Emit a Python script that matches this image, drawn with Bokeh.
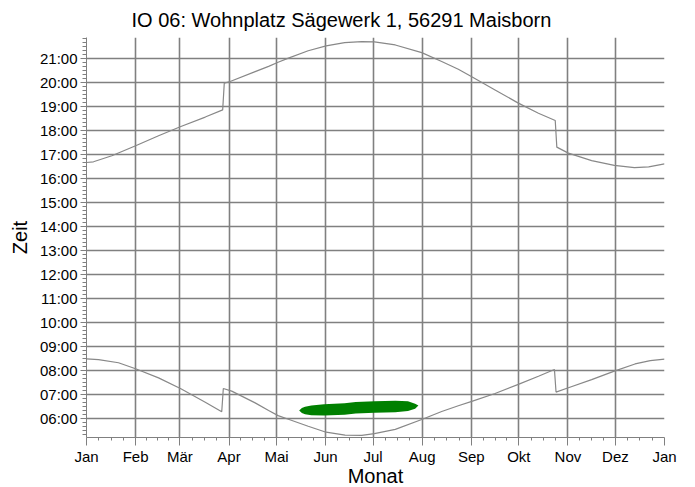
from bokeh.plotting import figure
from bokeh.models import FixedTicker, Range1d
from bokeh.embed import file_html
from bokeh.resources import INLINE

# ---- data ----
month_labels = ["Jan", "Feb", "Mär", "Apr", "Mai", "Jun", "Jul", "Aug", "Sep", "Okt", "Nov", "Dez", "Jan"]
month_starts = [0, 31, 59, 90, 120, 151, 181, 212, 243, 273, 304, 334, 365]

hour_ticks = list(range(6, 22))
hour_labels = [f"{h:02d}:00" for h in hour_ticks]

# sunset (upper curve), day of year -> hour
sunset_day = [0, 4.4, 16, 31.4, 45.5, 59.6, 75, 86, 87, 90.7, 106.5, 115, 121, 127.5, 140, 151.3, 163,
              173.8, 181.8, 195, 211.7, 224.3, 234.8, 243.3, 258, 272.7, 285.4, 296, 297, 304.3, 319,
              333.3, 346, 355, 365]
sunset_h = [16.66, 16.69, 16.94, 17.37, 17.77, 18.16, 18.55, 18.85, 19.96, 20.03, 20.44, 20.66, 20.83,
            21.00, 21.31, 21.51, 21.65, 21.69, 21.68, 21.55, 21.23, 20.86, 20.54, 20.23, 19.68, 19.13,
            18.71, 18.41, 17.30, 17.05, 16.74, 16.54, 16.45, 16.48, 16.60]

# sunrise (lower curve)
sunrise_day = [0, 7.6, 20.2, 31, 45.5, 59.6, 75, 85.4, 86.4, 91.7, 106.5, 115, 121, 127.5, 140, 151.3,
               163.3, 173.8, 181.8, 195, 211.7, 224.3, 234.8, 243.3, 258, 272.7, 285.4, 295.5, 296.5,
               304.3, 319, 333.3, 346.4, 356, 365]
sunrise_h = [8.49, 8.46, 8.33, 8.08, 7.70, 7.25, 6.69, 6.29, 7.26, 7.15, 6.66, 6.34, 6.13, 5.98, 5.69,
             5.44, 5.32, 5.31, 5.38, 5.56, 5.97, 6.30, 6.54, 6.72, 7.05, 7.43, 7.77, 8.05, 7.11, 7.29,
             7.63, 7.98, 8.28, 8.42, 8.48]

# shadow period band (green)
band_day = [134.3, 136, 138, 142, 150, 163, 170, 182, 195, 203, 207.5, 209.6]
band_lo = [6.345, 6.24, 6.19, 6.15, 6.14, 6.17, 6.22, 6.25, 6.27, 6.32, 6.42, 6.55]
band_hi = [6.345, 6.45, 6.50, 6.55, 6.60, 6.64, 6.70, 6.73, 6.75, 6.73, 6.62, 6.55]

# ---- figure ----
FONT = "Liberation Sans"
p = figure(output_backend="svg", toolbar_location=None,
           x_range=Range1d(0, 365), y_range=Range1d(5.22, 21.86),
           min_border_left=86, min_border_right=14, min_border_top=33, min_border_bottom=46,
           frame_width=578, frame_height=400)
p.styles = {"margin-bottom": "-8px"}
p.outline_line_color = None
p.background_fill_color = "white"
p.border_fill_color = "white"

p.title.text = "IO 06: Wohnplatz Sägewerk 1, 56291 Maisborn"
p.title.text_font = FONT
p.title.text_font_size = "20px"
p.title.text_font_style = "normal"
p.title.text_color = "black"
p.title.align = "left"
p.title.offset = 45
p.title.standoff = 13

# x axis
minor_x = []
for i in range(12):
    a, b = month_starts[i], month_starts[i + 1]
    minor_x += [a + (b - a) * k / 4 for k in (1, 2, 3)]
p.xaxis.ticker = FixedTicker(ticks=month_starts, minor_ticks=minor_x)
p.xaxis.major_label_overrides = {d: l for d, l in zip(month_starts, month_labels)}
p.xaxis.axis_label = "Monat"

# y axis
minor_y = [5 + k / 6 for k in range(2, 6 * 17 + 6) if 5 + k / 6 <= 21.86]
p.yaxis.ticker = FixedTicker(ticks=hour_ticks, minor_ticks=minor_y)
p.yaxis.major_label_overrides = {h: l for h, l in zip(hour_ticks, hour_labels)}
p.yaxis.axis_label = "Zeit"

for ax in (p.xaxis[0], p.yaxis[0]):
    ax.axis_line_color = "#808080"
    ax.major_tick_line_color = "#808080"
    ax.minor_tick_line_color = "#808080"
    ax.major_tick_in = 0
    ax.minor_tick_in = 0
    ax.major_label_text_font = FONT
    ax.major_label_text_font_size = "15px"
    ax.major_label_text_color = "black"
    ax.axis_label_text_font = FONT
    ax.axis_label_text_font_size = "20px"
    ax.axis_label_text_font_style = "normal"
    ax.axis_label_text_color = "black"

p.xaxis.major_tick_out = 8
p.xaxis.minor_tick_out = 3
p.xaxis.major_label_standoff = 2
p.xaxis.axis_label_standoff = -3
p.yaxis.major_tick_out = 6
p.yaxis.minor_tick_out = 4
p.yaxis.major_label_standoff = 3
p.yaxis.axis_label_standoff = 6

p.xgrid.ticker = FixedTicker(ticks=month_starts[1:-1])
p.ygrid.ticker = FixedTicker(ticks=hour_ticks)
for g in (p.xgrid[0], p.ygrid[0]):
    g.grid_line_color = "#808080"
    g.grid_line_width = 1.6

p.varea(x=band_day, y1=band_lo, y2=band_hi, fill_color="#008000")
p.line(sunset_day, sunset_h, line_color="#888888", line_width=1.2)
p.line(sunrise_day, sunrise_h, line_color="#888888", line_width=1.2)

open("out.html", "w").write(file_html(p, INLINE))
